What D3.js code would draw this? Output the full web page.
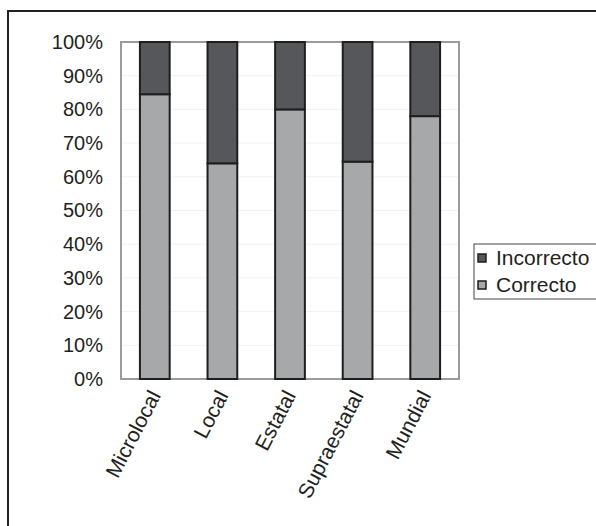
<!DOCTYPE html>
<html>
<head>
<meta charset="utf-8">
<script src="https://cdn.jsdelivr.net/npm/d3@7"></script>
<style>
  html, body { margin: 0; padding: 0; background: #fff; }
  svg { display: block; font-family: "Liberation Sans", Arial, sans-serif; }
</style>
</head>
<body>
<svg id="chart" width="596" height="526"></svg>
<script>
// Categories along the x axis
const categories = ["Microlocal", "Local", "Estatal", "Supraestatal", "Mundial"];
// Share of answers (percent) per category
const correcto   = [84.5, 64, 80, 64.5, 78];
const incorrecto = [15.5, 36, 20, 35.5, 22];
// Series order (bottom to top) and legend order
const seriesNames  = ["Correcto", "Incorrecto"];
const legendOrder  = ["Incorrecto", "Correcto"];
const seriesColors = { Correcto: "#a7a8aa", Incorrecto: "#55575a" };
const yTicks = [0, 10, 20, 30, 40, 50, 60, 70, 80, 90, 100];

const Y_FONT = 20;
const X_FONT = 21;
const LEGEND_FONT = 21;
const svg = d3.select("#chart");

// Outer frame (extends past the visible area on the right and bottom)
svg.append("path")
  .attr("d", "M8,530 L8,11 L600,11")
  .attr("fill", "none")
  .attr("stroke", "#222")
  .attr("stroke-width", 2);

const plot = { left: 121, top: 42, right: 459, bottom: 379 };

const x = d3.scaleBand()
  .domain(categories)
  .range([plot.left, plot.right])
  .paddingInner(0.56)
  .paddingOuter(0.28);

const y = d3.scaleLinear().domain([0, 100]).range([plot.bottom, plot.top]);

// Faint gridlines
svg.append("g")
  .selectAll("line")
  .data(yTicks.slice(1, -1))
  .join("line")
  .attr("x1", plot.left).attr("x2", plot.right)
  .attr("y1", d => y(d)).attr("y2", d => y(d))
  .attr("stroke", "#f1f1f1")
  .attr("stroke-width", 1);

// Plot area border
svg.append("rect")
  .attr("x", plot.left).attr("y", plot.top)
  .attr("width", plot.right - plot.left)
  .attr("height", plot.bottom - plot.top)
  .attr("fill", "none")
  .attr("stroke", "#9a9b9d")
  .attr("stroke-width", 2);

// Y axis labels
const yAxis = d3.axisLeft(y)
  .tickValues(yTicks)
  .tickFormat(d => d + "%")
  .tickSize(0)
  .tickPadding(18);
const gy = svg.append("g")
  .attr("transform", `translate(${plot.left},0)`)
  .call(yAxis)
  .attr("font-size", Y_FONT)
  .attr("font-family", "'Liberation Sans', Arial, sans-serif");
gy.select(".domain").remove();
gy.selectAll("text").attr("fill", "#231f20");

// Stacked bars
const rows = categories.map((c, i) => ({ cat: c, Correcto: correcto[i], Incorrecto: incorrecto[i] }));
const stacked = d3.stack().keys(seriesNames)(rows);

svg.append("g")
  .selectAll("g")
  .data(stacked)
  .join("g")
  .attr("fill", s => seriesColors[s.key])
  .selectAll("rect")
  .data(s => s)
  .join("rect")
  .attr("x", d => x(d.data.cat))
  .attr("y", d => y(d[1]))
  .attr("width", x.bandwidth())
  .attr("height", d => y(d[0]) - y(d[1]))
  .attr("stroke", "#1e1e1e")
  .attr("stroke-width", 2);

// X axis labels (rotated)
const xAxis = d3.axisBottom(x).tickSize(0).tickPadding(0);
const gx = svg.append("g")
  .attr("transform", `translate(0,${plot.bottom})`)
  .call(xAxis)
  .attr("font-size", X_FONT)
  .attr("font-family", "'Liberation Sans', Arial, sans-serif");
gx.select(".domain").remove();
gx.selectAll("text")
  .attr("fill", "#231f20")
  .attr("text-anchor", "end")
  .attr("dy", "0.35em")
  .attr("transform", "translate(0,13) rotate(-62.5)");

// Legend
const legend = svg.append("g");
legend.append("rect")
  .attr("x", 474).attr("y", 244)
  .attr("width", 130).attr("height", 55)
  .attr("fill", "#fff")
  .attr("stroke", "#444")
  .attr("stroke-width", 1);

const items = legend.selectAll("g.item")
  .data(legendOrder)
  .join("g")
  .attr("class", "item")
  .attr("transform", (d, i) => `translate(478,${258 + i * 27})`);

items.append("rect")
  .attr("x", 0).attr("y", -4)
  .attr("width", 8).attr("height", 8)
  .attr("fill", d => seriesColors[d])
  .attr("stroke", "#1e1e1e")
  .attr("stroke-width", 1.5);

items.append("text")
  .attr("x", 18).attr("y", 0)
  .attr("dy", "0.35em")
  .attr("font-size", LEGEND_FONT)
  .attr("fill", "#231f20")
  .text(d => d);
</script>
</body>
</html>
